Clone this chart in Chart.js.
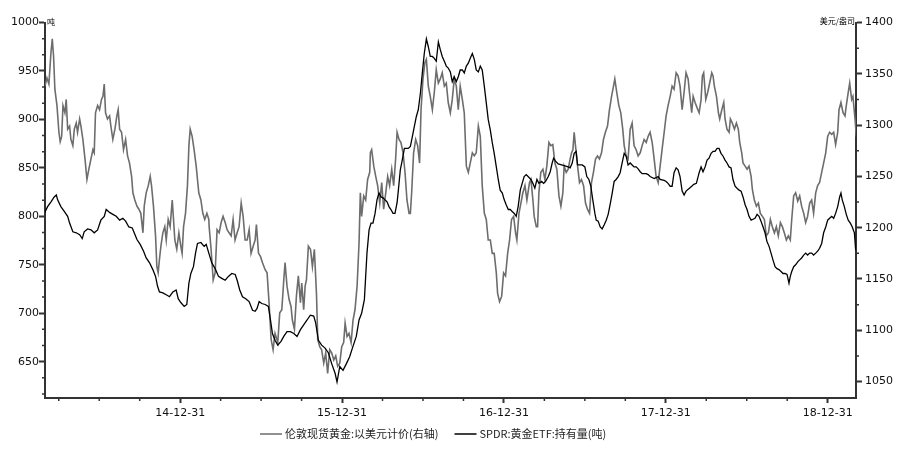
<!DOCTYPE html>
<html>
<head>
<meta charset="utf-8">
<script src="https://cdn.jsdelivr.net/npm/chart.js@4.4.1/dist/chart.umd.min.js"></script>
<style>
  html, body { margin: 0; padding: 0; background: #fff; }
  canvas { display: block; }
</style>
</head>
<body>
<canvas id="chart" width="900" height="449"></canvas>
<script>
/* global Chart */

// x is a decimal year (2015.0 = 14-12-31)
const xTickPositions = [2015, 2016, 2017, 2018, 2019];
const xTickLabels = ["14-12-31", "15-12-31", "16-12-31", "17-12-31", "18-12-31"];
const leftTickValues = [650, 700, 750, 800, 850, 900, 950, 1000];
const rightTickValues = [1050, 1100, 1150, 1200, 1250, 1300, 1350, 1400];

const goldLabel = "伦敦现货黄金:以美元计价(右轴)";
const spdrLabel = "SPDR:黄金ETF:持有量(吨)";
const leftUnit = "吨";
const rightUnit = "美元/盎司";

// London spot gold, USD/oz (right axis)
const goldT = [
  2014.165, 2014.177, 2014.189, 2014.202, 2014.210, 2014.218, 2014.226, 2014.239, 2014.251, 2014.259,
  2014.268, 2014.276, 2014.288, 2014.296, 2014.305, 2014.317, 2014.325, 2014.337, 2014.346, 2014.358,
  2014.366, 2014.379, 2014.387, 2014.399, 2014.412, 2014.424, 2014.436, 2014.449, 2014.461, 2014.469,
  2014.477, 2014.490, 2014.502, 2014.514, 2014.523, 2014.531, 2014.539, 2014.551, 2014.564, 2014.572,
  2014.584, 2014.597, 2014.609, 2014.617, 2014.626, 2014.638, 2014.650, 2014.663, 2014.675, 2014.687,
  2014.700, 2014.708, 2014.720, 2014.733, 2014.745, 2014.757, 2014.770, 2014.778, 2014.790, 2014.803,
  2014.815, 2014.823, 2014.835, 2014.848, 2014.856, 2014.864, 2014.872, 2014.881, 2014.893, 2014.905,
  2014.914, 2014.926, 2014.938, 2014.951, 2014.959, 2014.967, 2014.979, 2014.992, 2015.004, 2015.012,
  2015.021, 2015.033, 2015.045, 2015.054, 2015.062, 2015.074, 2015.086, 2015.099, 2015.107, 2015.115,
  2015.128, 2015.140, 2015.152, 2015.165, 2015.177,
  2015.179, 2015.191, 2015.204, 2015.216, 2015.228, 2015.241, 2015.253, 2015.265, 2015.278, 2015.290,
  2015.302, 2015.315, 2015.327, 2015.339, 2015.352, 2015.364, 2015.377, 2015.389, 2015.401, 2015.414,
  2015.426, 2015.438, 2015.451, 2015.463, 2015.471, 2015.484, 2015.496, 2015.508, 2015.525, 2015.537,
  2015.549, 2015.562, 2015.574, 2015.586, 2015.603, 2015.615, 2015.628, 2015.640, 2015.648, 2015.660,
  2015.673, 2015.685, 2015.693, 2015.706, 2015.718, 2015.730, 2015.743, 2015.751, 2015.763, 2015.772,
  2015.780, 2015.792, 2015.805, 2015.817, 2015.829, 2015.842, 2015.850, 2015.862, 2015.874, 2015.887,
  2015.899, 2015.911, 2015.924, 2015.936, 2015.949, 2015.961, 2015.973, 2015.986, 2015.998, 2016.010,
  2016.019, 2016.031, 2016.043, 2016.056, 2016.068, 2016.080, 2016.093, 2016.105, 2016.113, 2016.121,
  2016.134, 2016.146, 2016.158, 2016.171,
  2016.175, 2016.183, 2016.196, 2016.208, 2016.220, 2016.233, 2016.245, 2016.257, 2016.270, 2016.282,
  2016.294, 2016.307, 2016.319, 2016.331, 2016.340, 2016.352, 2016.364, 2016.377, 2016.389, 2016.401,
  2016.414, 2016.422, 2016.430, 2016.442, 2016.455, 2016.467, 2016.479, 2016.488, 2016.500, 2016.512,
  2016.521, 2016.533, 2016.545, 2016.558, 2016.570, 2016.582, 2016.595, 2016.607, 2016.619, 2016.632,
  2016.644, 2016.656, 2016.669, 2016.681, 2016.693, 2016.706, 2016.718, 2016.730, 2016.743, 2016.755,
  2016.768, 2016.780, 2016.792, 2016.805, 2016.817, 2016.829, 2016.842, 2016.854, 2016.866, 2016.879,
  2016.891, 2016.903, 2016.916, 2016.928, 2016.940, 2016.953, 2016.961, 2016.973, 2016.986, 2016.998,
  2017.010, 2017.023, 2017.035, 2017.047, 2017.060, 2017.072, 2017.080, 2017.093, 2017.105, 2017.117,
  2017.130, 2017.142, 2017.158,
  2017.167, 2017.179, 2017.187, 2017.200, 2017.208, 2017.216, 2017.228, 2017.241, 2017.253, 2017.265,
  2017.278, 2017.290, 2017.302, 2017.315, 2017.327, 2017.340, 2017.352, 2017.364, 2017.372, 2017.385,
  2017.397, 2017.409, 2017.418, 2017.426, 2017.434, 2017.442, 2017.455, 2017.467, 2017.479, 2017.492,
  2017.504, 2017.516, 2017.529, 2017.541, 2017.553, 2017.566, 2017.578, 2017.590, 2017.603, 2017.615,
  2017.627, 2017.640, 2017.652, 2017.665, 2017.677, 2017.685, 2017.697, 2017.710, 2017.722, 2017.734,
  2017.743, 2017.755, 2017.767, 2017.780, 2017.792, 2017.804, 2017.817, 2017.829, 2017.842, 2017.854,
  2017.866, 2017.879, 2017.891, 2017.903, 2017.916, 2017.928, 2017.940, 2017.953, 2017.965, 2017.977,
  2017.990, 2018.002, 2018.014, 2018.027, 2018.039, 2018.051, 2018.064, 2018.076, 2018.088, 2018.101,
  2018.113, 2018.125, 2018.138, 2018.146,
  2018.160, 2018.169, 2018.181, 2018.193, 2018.206, 2018.218, 2018.226, 2018.234, 2018.247, 2018.259,
  2018.271, 2018.284, 2018.292, 2018.300, 2018.313, 2018.325, 2018.333, 2018.346, 2018.358, 2018.366,
  2018.378, 2018.391, 2018.399, 2018.411, 2018.424, 2018.436, 2018.448, 2018.457, 2018.469, 2018.477,
  2018.490, 2018.502, 2018.514, 2018.527, 2018.535, 2018.547, 2018.560, 2018.572, 2018.584, 2018.597,
  2018.609, 2018.621, 2018.634, 2018.646, 2018.658, 2018.671, 2018.683, 2018.695, 2018.708, 2018.720,
  2018.732, 2018.745, 2018.757, 2018.769, 2018.778, 2018.790, 2018.802, 2018.815, 2018.827, 2018.839,
  2018.852, 2018.864, 2018.876, 2018.889, 2018.901, 2018.913, 2018.926, 2018.938, 2018.950, 2018.963,
  2018.975, 2018.988, 2019.000, 2019.012, 2019.025, 2019.037, 2019.049, 2019.062, 2019.070, 2019.082,
  2019.095, 2019.107, 2019.115, 2019.127, 2019.136, 2019.148, 2019.156, 2019.169, 2019.177
];
const goldV = [
  1338, 1346, 1340, 1371, 1384, 1367, 1335, 1319, 1293, 1284,
  1289, 1319, 1312, 1325, 1296, 1299, 1286, 1280, 1296, 1302,
  1293, 1306, 1299, 1286, 1267, 1247, 1257, 1267, 1276, 1273,
  1312, 1319, 1315, 1325, 1328, 1340, 1312, 1306, 1309, 1299,
  1286, 1296, 1309, 1315, 1296, 1293, 1276, 1286, 1270, 1263,
  1250, 1234, 1227, 1221, 1218, 1214, 1195, 1221, 1234, 1241,
  1250, 1241, 1221, 1192, 1162, 1156, 1169, 1182, 1195, 1201,
  1188, 1208, 1201, 1227, 1208, 1188, 1179, 1195, 1182, 1175,
  1201, 1214, 1241, 1280, 1296, 1289, 1276, 1260, 1247, 1234,
  1227, 1214, 1208, 1214, 1208,
  1201, 1179, 1149, 1156, 1198, 1195, 1205, 1211, 1205, 1198,
  1195, 1192, 1208, 1188, 1195, 1201, 1224, 1211, 1188, 1188,
  1198, 1175, 1182, 1188, 1203, 1175, 1172, 1166, 1159, 1156,
  1127, 1091, 1081, 1097, 1088, 1117, 1120, 1149, 1166, 1143,
  1130, 1123, 1110, 1101, 1133, 1153, 1127, 1146, 1120, 1143,
  1149, 1182, 1179, 1162, 1179, 1136, 1091, 1084, 1081, 1068,
  1078, 1058, 1081, 1078, 1071, 1075, 1065, 1068, 1084, 1088,
  1107, 1094, 1097, 1088, 1110, 1120, 1143, 1185, 1234, 1211,
  1231, 1227, 1247, 1254,
  1273, 1276, 1260, 1250, 1241, 1224, 1244, 1218, 1234, 1250,
  1241, 1257, 1241, 1267, 1293, 1286, 1283, 1273, 1254, 1227,
  1214, 1214, 1234, 1273, 1286, 1280, 1263, 1315, 1345, 1361,
  1364, 1338, 1328, 1315, 1332, 1354, 1341, 1345, 1351, 1338,
  1341, 1322, 1312, 1325, 1345, 1338, 1315, 1338, 1325, 1312,
  1260, 1254, 1263, 1273, 1270, 1273, 1299, 1289, 1241, 1214,
  1208, 1188, 1188, 1175, 1175, 1156, 1136, 1128, 1133, 1156,
  1153, 1175, 1188, 1208, 1211, 1195, 1188, 1214, 1224, 1234,
  1241, 1227, 1244,
  1247, 1227, 1211, 1201, 1201, 1234, 1254, 1257, 1247, 1260,
  1283, 1280, 1281, 1263, 1257, 1231, 1221, 1234, 1260, 1254,
  1257, 1267, 1273, 1276, 1293, 1280, 1260, 1244, 1247, 1241,
  1224, 1218, 1214, 1244, 1254, 1267, 1270, 1267, 1273, 1286,
  1293, 1299, 1315, 1328, 1338, 1345, 1332, 1319, 1312, 1296,
  1280, 1270, 1267, 1296, 1302, 1280, 1276, 1270, 1273, 1280,
  1286, 1283, 1289, 1293, 1283, 1267, 1250, 1244, 1260, 1276,
  1293, 1309, 1319, 1328, 1338, 1335, 1351, 1348, 1338, 1315,
  1332, 1351, 1345, 1332,
  1312, 1328, 1322, 1317, 1312, 1325, 1348, 1351, 1325, 1332,
  1341, 1351, 1348, 1338, 1328, 1312, 1306, 1315, 1322, 1306,
  1296, 1293, 1306, 1302, 1296, 1302, 1296, 1283, 1273, 1263,
  1260, 1257, 1260, 1250, 1237, 1227, 1221, 1224, 1214, 1211,
  1208, 1192, 1195, 1208, 1201, 1195, 1201, 1192, 1205, 1201,
  1195, 1188, 1192, 1188, 1208, 1231, 1234, 1226, 1231, 1221,
  1214, 1205, 1211, 1224, 1227, 1214, 1234, 1241, 1244, 1254,
  1263, 1273, 1289, 1293, 1291, 1293, 1281, 1293, 1315, 1322,
  1312, 1309, 1319, 1332, 1341, 1325, 1328, 1306, 1289
];

// SPDR gold ETF holdings, tonnes (left axis)
const spdrT = [
  2014.161, 2014.181, 2014.202, 2014.222, 2014.235, 2014.243, 2014.263, 2014.284, 2014.305, 2014.317,
  2014.337, 2014.358, 2014.379, 2014.395, 2014.407, 2014.428, 2014.449, 2014.469, 2014.490, 2014.510,
  2014.531, 2014.543, 2014.564, 2014.584, 2014.605, 2014.626, 2014.646, 2014.663, 2014.683, 2014.704,
  2014.716, 2014.733, 2014.753, 2014.774, 2014.790, 2014.811, 2014.831, 2014.848, 2014.860, 2014.872,
  2014.893, 2014.914, 2014.934, 2014.955, 2014.975, 2014.988, 2015.004, 2015.025, 2015.041, 2015.054,
  2015.066, 2015.082, 2015.095, 2015.107, 2015.128, 2015.148, 2015.161, 2015.177,
  2015.195, 2015.216, 2015.237, 2015.257, 2015.278, 2015.298, 2015.319, 2015.340, 2015.352, 2015.368,
  2015.385, 2015.405, 2015.426, 2015.447, 2015.463, 2015.475, 2015.488, 2015.504, 2015.525, 2015.545,
  2015.558, 2015.570, 2015.586, 2015.603, 2015.623, 2015.640, 2015.660, 2015.681, 2015.702, 2015.722,
  2015.743, 2015.763, 2015.784, 2015.804, 2015.825, 2015.837, 2015.854, 2015.874, 2015.895, 2015.916,
  2015.936, 2015.957, 2015.969, 2015.986, 2016.006, 2016.027, 2016.047, 2016.068, 2016.088, 2016.105,
  2016.121, 2016.138,
  2016.154, 2016.167, 2016.179, 2016.191, 2016.204, 2016.216, 2016.228, 2016.241, 2016.253, 2016.265,
  2016.278, 2016.290, 2016.302, 2016.315, 2016.327, 2016.340, 2016.348, 2016.360, 2016.372, 2016.385,
  2016.397, 2016.409, 2016.422, 2016.434, 2016.447, 2016.459, 2016.471, 2016.484, 2016.496, 2016.508,
  2016.521, 2016.533, 2016.545, 2016.558, 2016.570, 2016.582, 2016.595, 2016.607, 2016.619, 2016.632,
  2016.644, 2016.656, 2016.669, 2016.681, 2016.693, 2016.706, 2016.718, 2016.730, 2016.743, 2016.755,
  2016.768, 2016.780, 2016.792, 2016.805, 2016.817, 2016.829, 2016.842, 2016.854, 2016.866, 2016.879,
  2016.891, 2016.903, 2016.916, 2016.928, 2016.940, 2016.953, 2016.965, 2016.977, 2016.990, 2017.002,
  2017.014, 2017.027, 2017.039, 2017.051, 2017.064, 2017.076, 2017.088, 2017.101, 2017.113, 2017.125,
  2017.138,
  2017.167, 2017.179, 2017.191, 2017.204, 2017.216, 2017.233, 2017.245, 2017.257, 2017.274, 2017.286,
  2017.298, 2017.307, 2017.319, 2017.335, 2017.356, 2017.377, 2017.397, 2017.409, 2017.422, 2017.434,
  2017.446, 2017.455, 2017.467, 2017.484, 2017.500, 2017.512, 2017.525, 2017.537, 2017.549, 2017.562,
  2017.570, 2017.582, 2017.595, 2017.607, 2017.619, 2017.632, 2017.644, 2017.656, 2017.669, 2017.681,
  2017.693, 2017.706, 2017.718, 2017.730, 2017.743, 2017.755, 2017.767, 2017.780, 2017.792, 2017.804,
  2017.817, 2017.829, 2017.842, 2017.854, 2017.879, 2017.891, 2017.903, 2017.928, 2017.953, 2017.965,
  2017.990, 2018.002, 2018.014, 2018.027, 2018.039, 2018.051, 2018.064, 2018.076, 2018.088, 2018.101,
  2018.113, 2018.125, 2018.146,
  2018.160, 2018.173, 2018.189, 2018.206, 2018.218, 2018.230, 2018.243, 2018.255, 2018.267, 2018.280,
  2018.292, 2018.304, 2018.317, 2018.329, 2018.341, 2018.354, 2018.366, 2018.378, 2018.391, 2018.403,
  2018.415, 2018.428, 2018.440, 2018.453, 2018.465, 2018.477, 2018.490, 2018.502, 2018.514, 2018.527,
  2018.539, 2018.551, 2018.564, 2018.576, 2018.588, 2018.601, 2018.613, 2018.625, 2018.638, 2018.650,
  2018.662, 2018.675, 2018.687, 2018.699, 2018.712, 2018.724, 2018.736, 2018.749, 2018.761, 2018.769,
  2018.778, 2018.790, 2018.802, 2018.815, 2018.827, 2018.839, 2018.852, 2018.864, 2018.876, 2018.889,
  2018.901, 2018.913, 2018.926, 2018.938, 2018.950, 2018.963, 2018.975, 2018.988, 2019.000, 2019.012,
  2019.025, 2019.037, 2019.049, 2019.062, 2019.074, 2019.082, 2019.090, 2019.103, 2019.115, 2019.127,
  2019.140, 2019.152, 2019.165, 2019.173
];
const spdrV = [
  803, 810, 815, 820, 822, 817, 810, 805, 800, 793,
  784, 783, 781, 777, 784, 787, 786, 783, 786, 796,
  800, 807, 804, 802, 800, 796, 798, 795, 789, 788,
  783, 776, 771, 764, 757, 752, 745, 738, 728, 722,
  721, 719, 717, 722, 724, 715, 711, 707, 709, 731,
  741, 748, 762, 772, 773, 769, 771, 762,
  752, 746, 738, 736, 734, 738, 741, 740, 734, 724,
  717, 715, 712, 703, 702, 705, 712, 710, 709, 707,
  693, 679, 672, 667, 671, 676, 681, 681, 679, 676,
  683, 688, 693, 698, 697, 690, 672, 667, 664, 659,
  648, 638, 629, 645, 641, 648, 655, 666, 676, 693,
  700, 714,
  762, 786, 793, 793, 803, 817, 824, 820, 819, 817,
  815, 810, 807, 803, 803, 814, 827, 848, 858, 870,
  870, 870, 872, 882, 893, 903, 910, 927, 948, 968,
  983, 975, 965, 965, 963, 960, 980, 972, 965, 960,
  955, 953, 949, 939, 944, 939, 944, 951, 951, 948,
  955, 958, 963, 968, 962, 951, 949, 955, 951, 934,
  917, 900, 889, 876, 865, 851, 838, 827, 824, 817,
  812, 807, 807, 805, 803, 800, 810, 827, 834, 841,
  843,
  838, 834, 829, 838, 834, 836, 834, 836, 841, 846,
  855, 860, 857, 854, 853, 852, 851, 850, 855, 865,
  867, 853, 853, 853, 851, 841, 838, 831, 817, 803,
  796, 795, 789, 787, 791, 796, 802, 812, 824, 836,
  838, 841, 845, 855, 865, 862, 853, 855, 853, 851,
  851, 849, 846, 844, 844, 843, 841, 839, 841, 838,
  837, 836, 834, 831, 831, 845, 850, 848, 841, 826,
  822, 826, 829,
  831, 833, 834, 845, 851, 846, 851, 858, 860, 865,
  867, 867, 870, 870, 865, 862, 858, 855, 851, 850,
  838, 831, 829, 827, 826, 820, 812, 807, 800, 796,
  797, 798, 802, 800, 795, 789, 783, 774, 769, 762,
  755, 748, 746, 745, 743, 741, 741, 740, 731, 738,
  743, 748, 750, 753, 755, 757, 760, 762, 760, 762,
  762, 760, 762, 764, 767, 772, 783, 789, 796, 798,
  800, 798, 803, 810, 820, 824, 817, 810, 802, 796,
  793, 789, 783, 765
];

const AXIS = "#333333";
const numFont = { family: "'DejaVu Sans', sans-serif", size: 11 };
const cjkFont = "'Noto Sans CJK SC', 'Noto Sans', sans-serif";

const toPoints = (ts, vs) => ts.map((t, i) => ({ x: t, y: vs[i] }));
const setTicks = (values) => (scale) => { scale.ticks = values.map((v) => ({ value: v })); };

// short unlabelled ticks between the labelled ones
const minorTicksPlugin = {
  id: "minorTicks",
  afterDraw(chart) {
    const { ctx, chartArea: a, scales } = chart;
    ctx.save();
    ctx.strokeStyle = AXIS;
    ctx.lineWidth = 1.5;
    ctx.beginPath();
    for (let q = 2014.25; q < 2019.17; q += 0.25) {
      if (q % 1 === 0) continue;
      const x = scales.x.getPixelForValue(q);
      ctx.moveTo(x, a.bottom);
      ctx.lineTo(x, a.bottom + 3);
    }
    for (let k = 1; ; k++) {
      const v = 1000 - (k * 50) / 3;
      if (v < scales.yL.min) break;
      if (k % 3 === 0) continue;
      const y = scales.yL.getPixelForValue(v);
      ctx.moveTo(a.left, y);
      ctx.lineTo(a.left - 3, y);
    }
    for (let v = 1375; v > scales.yR.min; v -= 50) {
      const y = scales.yR.getPixelForValue(v);
      ctx.moveTo(a.right, y);
      ctx.lineTo(a.right + 3, y);
    }
    ctx.stroke();
    ctx.restore();
  }
};

// axis units and the legend under the axis
const extrasPlugin = {
  id: "extras",
  afterDraw(chart) {
    const { ctx, chartArea: a } = chart;
    ctx.save();
    ctx.fillStyle = "#000";
    ctx.textBaseline = "middle";
    ctx.font = `8px ${cjkFont}`;
    ctx.textAlign = "left";
    ctx.fillText(leftUnit, a.left + 2, 22);
    ctx.textAlign = "right";
    ctx.fillText(rightUnit, a.right - 1, 21);

    ctx.font = `11px ${cjkFont}`;
    ctx.textAlign = "left";
    const y = 434;
    let x = 260;
    const items = [
      { label: goldLabel, color: "#6d6d6d" },
      { label: spdrLabel, color: "#000000" }
    ];
    for (const it of items) {
      ctx.strokeStyle = it.color;
      ctx.lineWidth = 1.5;
      ctx.beginPath();
      ctx.moveTo(x, y);
      ctx.lineTo(x + 22, y);
      ctx.stroke();
      x += 25;
      ctx.fillStyle = "#222";
      ctx.fillText(it.label, x, y);
      x += ctx.measureText(it.label).width + 16;
    }
    ctx.restore();
  }
};

const yAxis = (position, min, max, ticks, width, padding) => ({
  type: "linear",
  position,
  min,
  max,
  afterBuildTicks: setTicks(ticks),
  afterFit: (s) => { s.width = width; },
  grid: { drawOnChartArea: false, drawTicks: true, tickLength: 6, tickColor: AXIS, tickWidth: 2 },
  border: { display: true, color: AXIS, width: 2 },
  ticks: { color: "#111", font: numFont, padding, autoSkip: false, callback: (v) => String(v) }
});

new Chart(document.getElementById("chart").getContext("2d"), {
  type: "line",
  data: {
    datasets: [
      {
        label: goldLabel,
        data: toPoints(goldT, goldV),
        yAxisID: "yR",
        borderColor: "#6d6d6d",
        borderWidth: 1.6,
        pointRadius: 0,
        tension: 0,
        order: 2
      },
      {
        label: spdrLabel,
        data: toPoints(spdrT, spdrV),
        yAxisID: "yL",
        borderColor: "#000000",
        borderWidth: 1.3,
        pointRadius: 0,
        tension: 0,
        order: 1
      }
    ]
  },
  options: {
    responsive: false,
    animation: false,
    devicePixelRatio: 1,
    layout: { padding: { top: 22.5, left: 0, right: 0, bottom: 0 } },
    plugins: { legend: { display: false }, tooltip: { enabled: false } },
    scales: {
      x: {
        type: "linear",
        min: 2014.165,
        max: 2019.175,
        afterBuildTicks: setTicks(xTickPositions),
        afterFit: (s) => { s.height = 51; },
        grid: { drawOnChartArea: false, drawTicks: true, tickLength: 5, tickColor: AXIS, tickWidth: 2 },
        border: { display: true, color: AXIS, width: 2 },
        ticks: {
          autoSkip: false,
          maxRotation: 0,
          padding: 4,
          color: "#111",
          font: numFont,
          callback: (v) => xTickLabels[xTickPositions.indexOf(v)] ?? ""
        }
      },
      yL: yAxis("left", 612.5, 1000, leftTickValues, 45, 0),
      yR: yAxis("right", 1034, 1400, rightTickValues, 44, 3)
    }
  },
  plugins: [minorTicksPlugin, extrasPlugin]
});
</script>
</body>
</html>
